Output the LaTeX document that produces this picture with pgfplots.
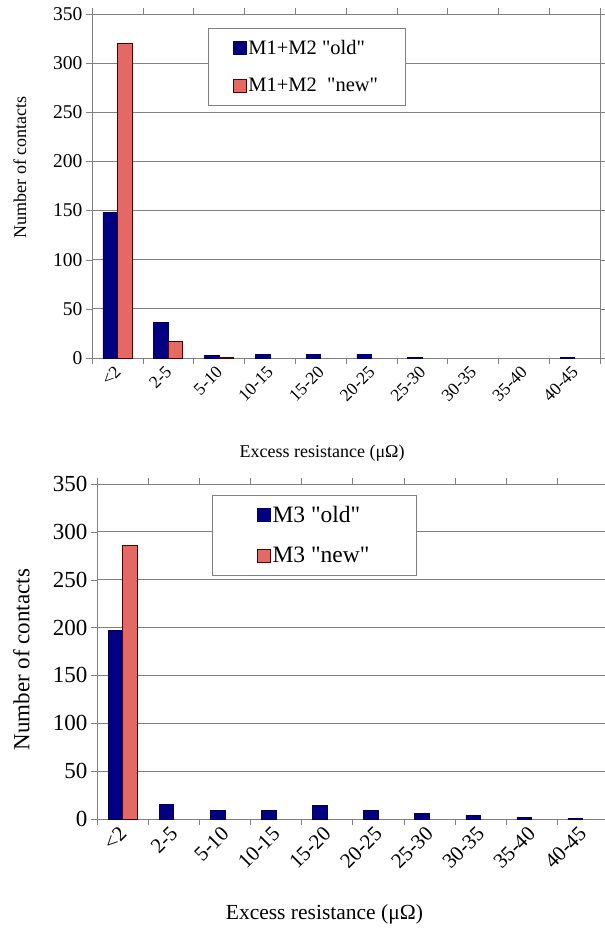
\documentclass[border=0pt]{standalone}
\usepackage{fontspec}
\setmainfont{Liberation Serif}
\newfontfamily\plainserif{Liberation Serif}
\usepackage{pgfplots}
\pgfplotsset{compat=1.18}
\definecolor{navybar}{RGB}{0,0,128}
\definecolor{salmonbar}{RGB}{228,104,100}
\definecolor{gridgray}{RGB}{128,128,128}
\pgfplotsset{
  sqleg/.style={legend image code/.code={\draw[##1] (0pt,-6.5pt) rectangle (13pt,6.5pt);}},
  common/.style={
    scale only axis,
    ybar=0pt, bar width=14.5pt,
    xmin=-0.5, xmax=9.5, ymin=0, ymax=350,
    ytick={0,50,...,350},
    xtick={0,...,9},
    xticklabels={<2,2-5,5-10,10-15,15-20,20-25,25-30,30-35,35-40,40-45},
    minor xtick={-0.5,0.5,...,9.5},
    major x tick style={draw=none},
    minor x tick style={draw=gridgray},
    minor tick length=6pt, major tick length=6pt,
    ytick style={draw=gridgray},
    tick align=outside,
    ymajorgrids, major grid style={gridgray, line width=0.8pt},
    axis line style={gridgray},
    /pgf/number format/assume math mode=true,
    legend cell align=left,
    xticklabel style={rotate=45, anchor=east, yshift=-4pt},
  },
}
\begin{document}
\begin{tikzpicture}
\useasboundingbox (0,0) rectangle (605pt,-930pt);
% ---------- top chart ----------
\begin{axis}[common,
  at={(92pt,-358pt)}, anchor=south west,
  width=508pt, height=344pt,
  yticklabel style={font=\fontsize{19.5}{20}\selectfont},
  xticklabel style={font=\fontsize{17.5}{18}\selectfont},
  ylabel={Number of contacts},
  ylabel style={at={(axis description cs:-0.142,0.555)}, anchor=center, font=\fontsize{18}{18}\selectfont},
  xlabel={Excess resistance (μΩ)},
  xlabel style={at={(axis description cs:0.453,-0.276)}, anchor=center, font=\fontsize{18}{18}\selectfont},
  legend style={at={(axis description cs:0.228,0.959)}, anchor=north west, draw=gridgray,
    font=\plainserif\fontsize{20.5}{20.5}\selectfont, inner xsep=25pt, inner ysep=10pt, row sep=18pt},
]
\addplot[fill=navybar, draw=navybar!70!black, sqleg] coordinates {
  (0,148) (1,36) (2,3) (3,4) (4,4) (5,4) (6,1) (9,1)};
\addplot[fill=salmonbar, draw=black!70!red, sqleg] coordinates {
  (0,320) (1,17) (2,1)};
\legend{M1+M2 "old", M1+M2\ \ "new"}
\end{axis}
% ---------- bottom chart ----------
\begin{axis}[common,
  at={(97pt,-819pt)}, anchor=south west,
  width=511pt, height=335pt,
  yticklabel style={font=\fontsize{23}{23}\selectfont},
  xticklabel style={font=\fontsize{21}{21}\selectfont},
  ylabel={Number of contacts},
  ylabel style={at={(axis description cs:-0.148,0.476)}, anchor=center, font=\fontsize{23}{23}\selectfont},
  xlabel={Excess resistance (μΩ)},
  xlabel style={at={(axis description cs:0.445,-0.285)}, anchor=center, font=\fontsize{21.5}{21.5}\selectfont},
  legend style={at={(axis description cs:0.225,0.967)}, anchor=north west, draw=gridgray,
    font=\plainserif\fontsize{23.5}{23.5}\selectfont, inner xsep=45pt, inner ysep=9pt, row sep=19pt},
]
\addplot[fill=navybar, draw=navybar!70!black, sqleg] coordinates {
  (0,197) (1,15) (2,9) (3,9) (4,14) (5,9) (6,6) (7,4) (8,2) (9,1)};
\addplot[fill=salmonbar, draw=black!70!red, sqleg] coordinates {
  (0,286)};
\legend{M3 "old", M3 "new"}
\end{axis}
\end{tikzpicture}
\end{document}
